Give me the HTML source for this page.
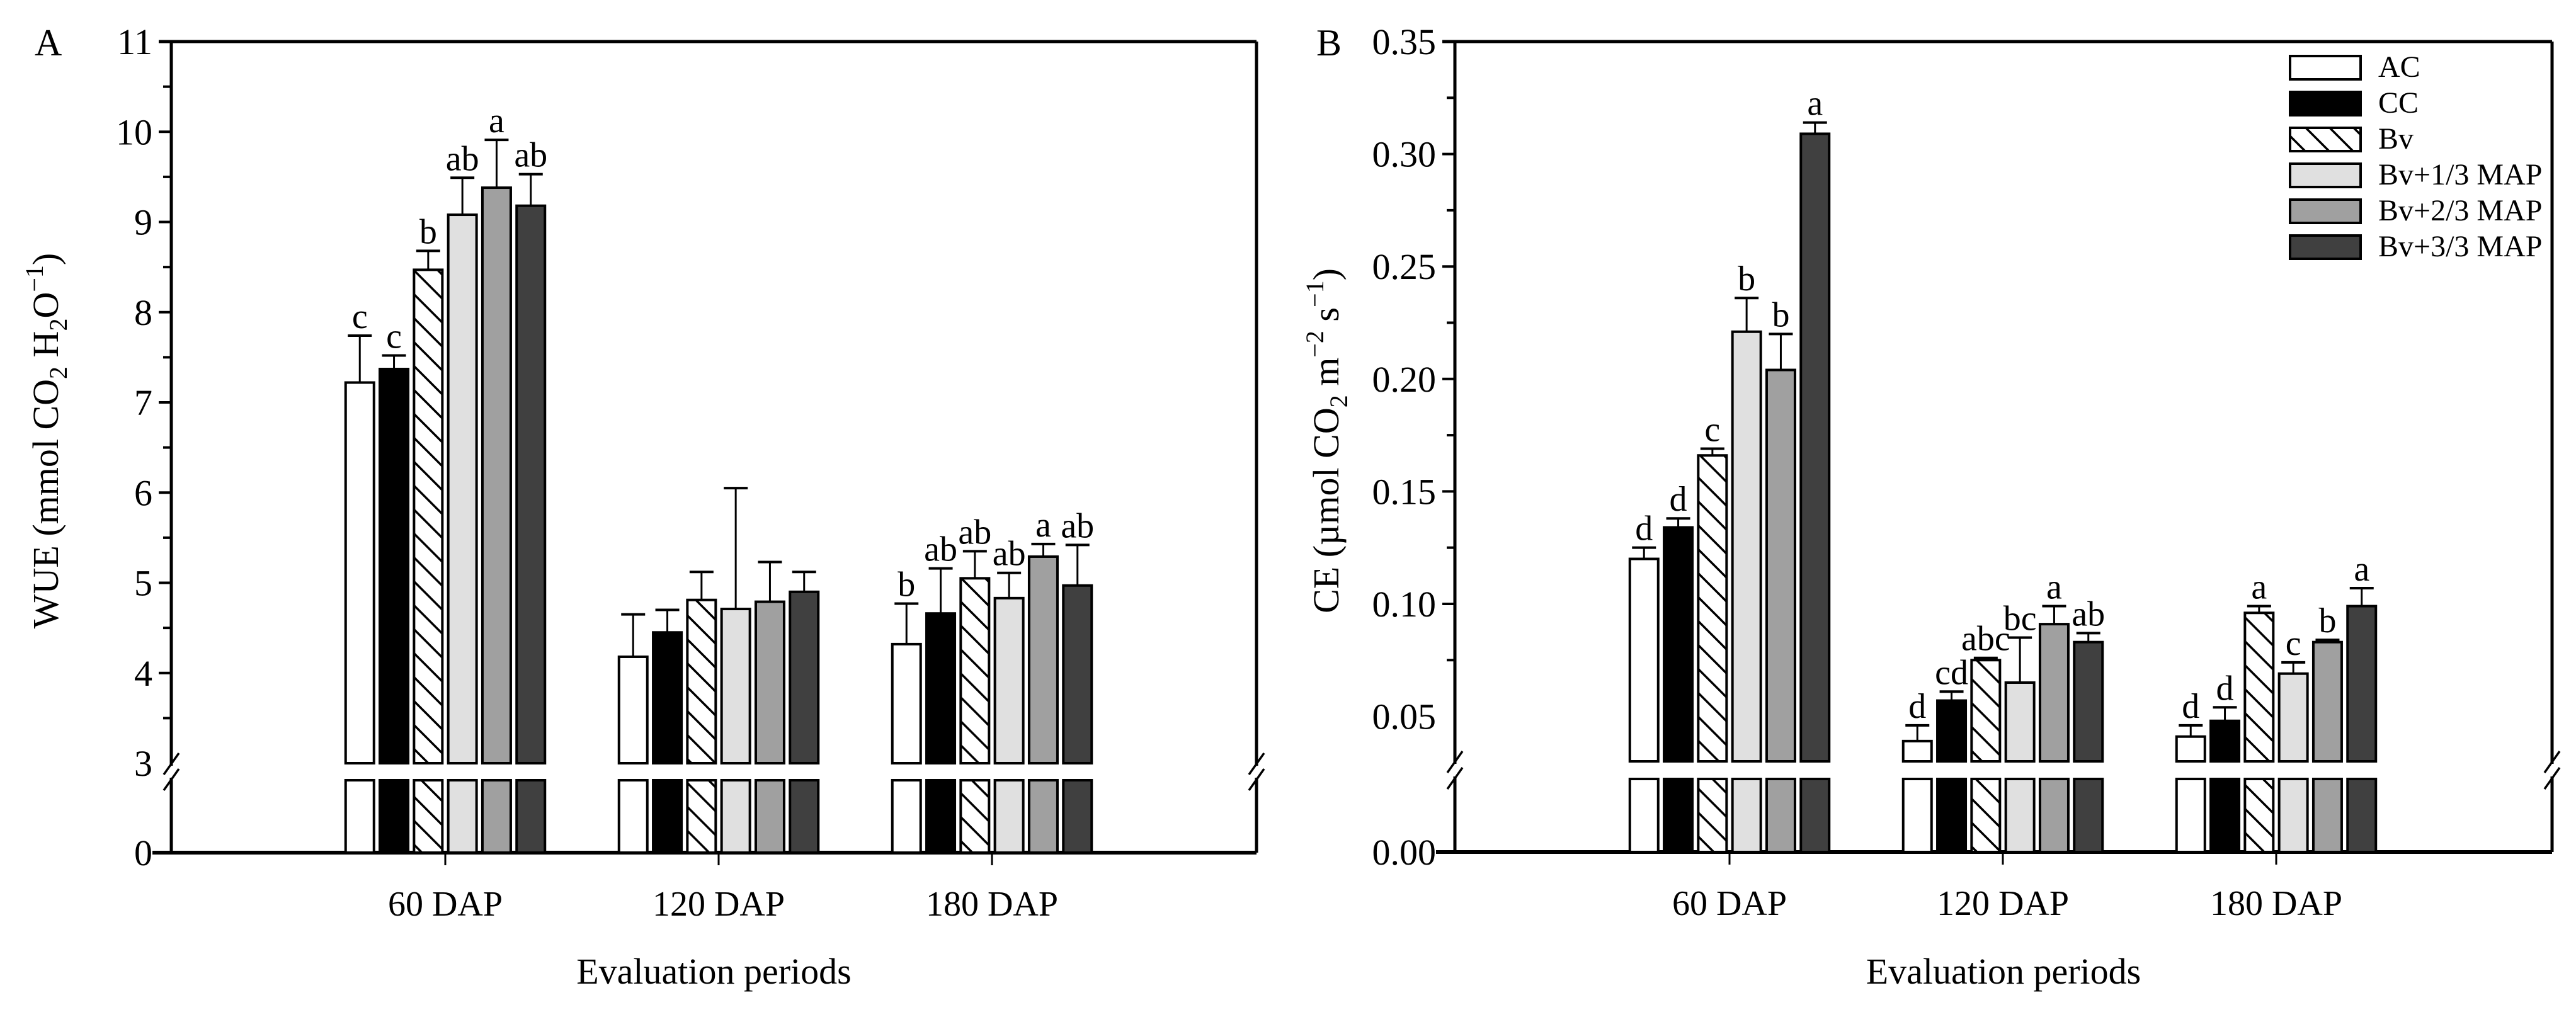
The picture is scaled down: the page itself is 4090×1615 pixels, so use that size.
<!DOCTYPE html>
<html><head><meta charset="utf-8"><style>
html,body{margin:0;padding:0;background:#fff;}
svg{display:block;}
text{font-family:"Liberation Serif",serif;}
</style></head><body>
<svg id="chart" width="4090" height="1615" viewBox="0 0 4090 1615" xmlns="http://www.w3.org/2000/svg" font-family="Liberation Serif, serif">
<defs>
<pattern id="hatch" patternUnits="userSpaceOnUse" width="38" height="38">
<rect width="38" height="38" fill="#fff"/>
<path d="M-10,-10 L48,48 M-10,28 L10,48 M28,-10 L48,10" stroke="#000" stroke-width="3.5"/>
</pattern>
</defs>
</svg>
<script>
const categories = ["60 DAP","120 DAP","180 DAP"];
const series = ["AC","CC","Bv","Bv+1/3 MAP","Bv+2/3 MAP","Bv+3/3 MAP"];
const wueValues = [[7.22,7.37,8.47,9.08,9.38,9.18],[4.18,4.45,4.81,4.71,4.79,4.90],[4.32,4.66,5.05,4.83,5.29,4.97]];
const wueErrTop = [[7.74,7.52,8.68,9.49,9.91,9.53],[4.65,4.70,5.12,6.05,5.23,5.12],[4.77,5.16,5.35,5.11,5.43,5.42]];
const wueLetters = [["c","c","b","ab","a","ab"],["","","","","",""],["b","ab","ab","ab","a","ab"]];
const ceValues = [[0.120,0.134,0.166,0.221,0.204,0.309],[0.039,0.057,0.075,0.065,0.091,0.083],[0.041,0.048,0.096,0.069,0.083,0.099]];
const ceErrTop = [[0.125,0.138,0.169,0.236,0.220,0.314],[0.046,0.061,0.076,0.085,0.099,0.087],[0.046,0.054,0.099,0.074,0.084,0.107]];
const ceLetters = [["d","d","c","b","b","a"],["d","cd","abc","bc","a","ab"],["d","d","a","c","b","a"]];
const wueTicks = ["3","4","5","6","7","8","9","10","11"];
const ceTicks = ["0.05","0.10","0.15","0.20","0.25","0.30","0.35"];

const NS="http://www.w3.org/2000/svg";
const svg=document.getElementById('chart');
const fills=["#fff","#000","url(#hatch)","#e0e0e0","#a0a0a0","#404040"];
function mk(tag,attrs,parent){const e=document.createElementNS(NS,tag);for(const k in attrs)e.setAttribute(k,attrs[k]);(parent||svg).appendChild(e);return e;}

function panel(o){
  const g=mk('g',{});
  
  
  const y=v=>o.yTop+(o.vTop-v)*(o.yBreak-o.yTop)/(o.vTop-o.vBreak);
  const xc=i=>o.cx0+i*o.cdx;
  const L=o.left,R=o.right,Z=o.zero,LT=o.lowTop,B=o.yBreak;
  mk('line',{x1:L-20,y1:o.yTop,x2:R,y2:o.yTop,stroke:'#000','stroke-width':5},g);
  mk('line',{x1:L,y1:o.yTop,x2:L,y2:B+4,stroke:'#000','stroke-width':5},g);
  mk('line',{x1:L,y1:LT-4,x2:L,y2:Z,stroke:'#000','stroke-width':5},g);
  mk('line',{x1:R,y1:o.yTop,x2:R,y2:B+4,stroke:'#000','stroke-width':5},g);
  mk('line',{x1:R,y1:LT-4,x2:R,y2:Z,stroke:'#000','stroke-width':5},g);
  mk('line',{x1:L-30,y1:Z,x2:R,y2:Z,stroke:'#000','stroke-width':6},g);
  [L,R].forEach(x=>{
    mk('line',{x1:x-12,y1:B+18,x2:x+12,y2:B-16,stroke:'#000','stroke-width':3.5},g);
    mk('line',{x1:x-12,y1:LT+16,x2:x+12,y2:LT-18,stroke:'#000','stroke-width':3.5},g);
  });
  o.ticks.forEach((t,i)=>{
    const v=parseFloat(t), yy=y(v);
    if(i>0) mk('line',{x1:L-20,y1:yy,x2:L,y2:yy,stroke:'#000','stroke-width':4},g);
    const tx=mk('text',{x:L-30,y:yy+20,'font-size':58,'text-anchor':'end'},g);tx.textContent=t;
    
    
    if(i<o.ticks.length-1){const ym=y(v+o.step/2);mk('line',{x1:L-13,y1:ym,x2:L,y2:ym,stroke:'#000','stroke-width':4},g);}
  });
  const t0=mk('text',{x:L-30,y:Z+20,'font-size':58,'text-anchor':'end'},g);t0.textContent=o.zeroLabel;
  
  
  categories.forEach((c,ci)=>{
    const cx=xc(ci);
    mk('line',{x1:cx,y1:Z,x2:cx,y2:Z+20,stroke:'#000','stroke-width':3},g);
    const ct=mk('text',{x:cx,y:Z+100,'font-size':56,'text-anchor':'middle'},g);ct.textContent=c;
    
    
    series.forEach((s,si)=>{
      const bx=cx+(si-2.5)*o.pitch-o.bw/2;
      const v=o.vals[ci][si], yv=y(v), ye=y(o.err[ci][si]);
      const ex=bx+o.bw/2;
      mk('line',{x1:ex,y1:yv,x2:ex,y2:ye,stroke:'#000','stroke-width':3},g);
      mk('line',{x1:ex-19,y1:ye,x2:ex+19,y2:ye,stroke:'#000','stroke-width':4},g);
      const r1=mk('rect',{x:bx,y:yv,width:o.bw,height:B-yv,fill:fills[si],stroke:'#000','stroke-width':4},g);
      
      
      const r2=mk('rect',{x:bx,y:LT,width:o.bw,height:Z-LT,fill:fills[si],stroke:'#000','stroke-width':4},g);
      
      
      const lt=o.letters[ci][si];
      if(lt){const tl=mk('text',{x:ex,y:ye-12,'font-size':56,'text-anchor':'middle'},g);tl.textContent=lt;
        
        }
    });
  });
  const xt=mk('text',{x:(L+R)/2,y:1562,'font-size':58,'text-anchor':'middle'},g);xt.textContent='Evaluation periods';
  
  
  const pl=mk('text',{x:o.letterX,y:88,'font-size':60},g);pl.textContent=o.panelLetter;
  
  
  return g;
}

panel({name:'panel-a-wue',left:272,right:1995,yTop:66,yBreak:1212,lowTop:1239,zero:1354,vTop:11,vBreak:3,
  cx0:707,cdx:434,pitch:54.3,bw:45,vals:wueValues,err:wueErrTop,letters:wueLetters,ticks:wueTicks,step:1,zeroLabel:'0',letterX:55,panelLetter:'A'});
panel({name:'panel-b-ce',left:2310,right:4052,yTop:66,yBreak:1209,lowTop:1237,zero:1353,vTop:0.35,vBreak:0.03,
  cx0:2746,cdx:434,pitch:54.3,bw:45,vals:ceValues,err:ceErrTop,letters:ceLetters,ticks:ceTicks,step:0.05,zeroLabel:'0.00',letterX:2090,panelLetter:'B'});

const ya=mk('text',{transform:'translate(92,700) rotate(-90)','font-size':58,'text-anchor':'middle'});
ya.innerHTML='WUE (mmol CO<tspan font-size="40" dy="14">2</tspan><tspan dy="-14"> H</tspan><tspan font-size="40" dy="14">2</tspan><tspan dy="-14">O</tspan><tspan font-size="40" dy="-24">−1</tspan><tspan dy="24">)</tspan>';


const yb=mk('text',{transform:'translate(2125,700) rotate(-90)','font-size':58,'text-anchor':'middle'});
yb.innerHTML='CE (µmol CO<tspan font-size="40" dy="14">2</tspan><tspan dy="-14"> m</tspan><tspan font-size="40" dy="-24">−2</tspan><tspan dy="24"> s</tspan><tspan font-size="40" dy="-24">−1</tspan><tspan dy="24">)</tspan>';



const lg=mk('g',{});


series.forEach((s,i)=>{
  const yy=89+i*57;
  const r=mk('rect',{x:3636,y:yy,width:112,height:37,fill:fills[i],stroke:'#000','stroke-width':4},lg);
  
  
  const t=mk('text',{x:3776,y:yy+33,'font-size':48},lg);t.textContent=s;
  
  
});
</script>
</body></html>
